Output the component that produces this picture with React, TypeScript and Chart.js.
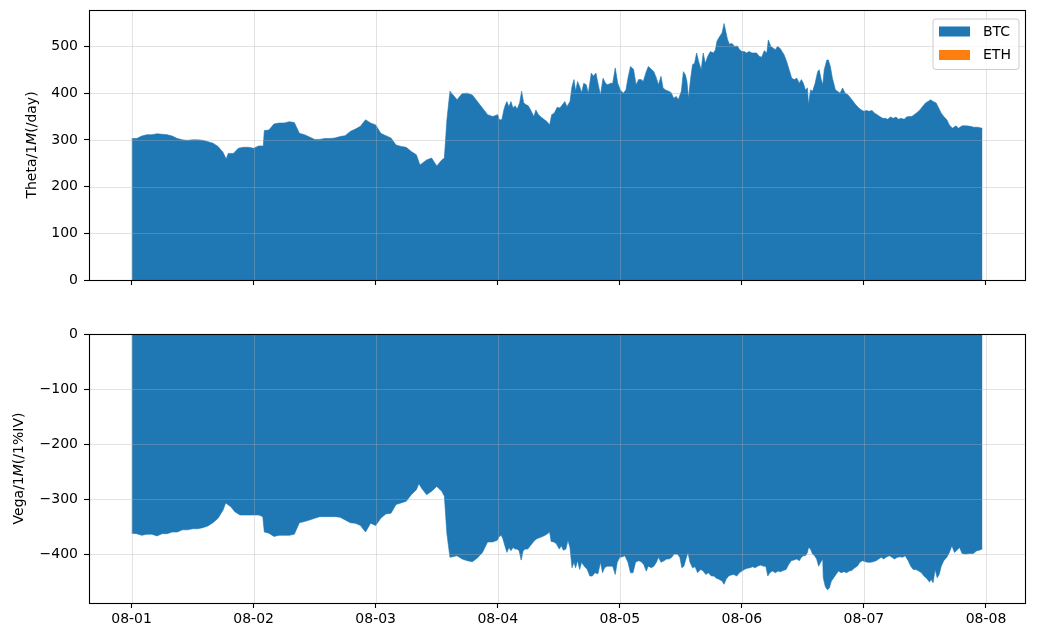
import React, { useEffect, useRef } from 'react';
import { Chart, registerables } from 'chart.js';

Chart.register(...registerables);

// ---------- data ----------
const DAY_TICKS = [0, 24, 48, 72, 96, 120, 144, 168]; // hours since 08-01 00:00
const DAY_LABELS = ['08-01', '08-02', '08-03', '08-04', '08-05', '08-06', '08-07', '08-08'];
const THETA_TICKS = [0, 100, 200, 300, 400, 500];
const VEGA_TICKS = [0, -100, -200, -300, -400];
const SERIES = ['BTC', 'ETH'];
const SERIES_COLORS = ['#1f77b4', '#ff7f0e'];
const THETA_LABEL = ['Theta/1', 'M', '(/day)'];
const VEGA_LABEL = ['Vega/1', 'M', '(/1%IV)'];

// [hour, value]
const THETA_BTC: [number, number][] = [
  [0, 303], [1, 303], [2, 308], [3, 311], [4, 311], [5, 313], [6, 312], [7, 311], [8, 308], [9, 303],
  [10, 300], [11, 299], [12, 300], [13, 300], [14, 299], [15, 296], [16, 293], [17, 286], [18, 273], [18.6, 259],
  [19, 271], [20, 271], [21, 282], [22, 284], [23, 284], [24, 282], [25, 287], [25.9, 287], [26.1, 320], [27, 321],
  [28, 334], [29, 336], [30, 336], [31, 339], [32, 337], [33, 314], [34, 311], [35, 306], [36, 301], [37, 301],
  [38, 303], [39, 303], [40, 304], [41, 307], [42, 309], [43, 318], [44, 323], [45, 329], [46, 343], [47, 336],
  [48, 332], [49, 314], [50, 309], [51, 304], [52, 289], [53, 286], [54, 284], [55, 275], [56, 268], [56.7, 246],
  [58, 257], [59, 261], [60, 244], [61, 257], [61.5, 261], [62, 343], [62.6, 404], [64, 386], [65, 399], [66, 400],
  [67, 396], [68, 382], [69, 368], [70, 354], [71, 350], [72, 354], [72.3, 343], [72.8, 343], [73.2, 364], [73.5, 375],
  [73.8, 382], [74.2, 371], [74.6, 382], [75, 368], [75.4, 373], [75.8, 366], [76.3, 379], [76.7, 404], [77.1, 379], [77.6, 375],
  [78, 373], [78.6, 361], [79.1, 350], [79.5, 364], [80, 354], [80.5, 349], [81.2, 343], [81.7, 339], [82.2, 332], [82.6, 354],
  [83.1, 357], [83.7, 370], [84.2, 368], [84.7, 375], [85.2, 382], [85.6, 371], [86.2, 382], [86.6, 414], [87, 429], [87.3, 404],
  [87.7, 425], [88.1, 414], [88.5, 401], [88.9, 421], [89.4, 418], [89.8, 400], [90.4, 443], [90.8, 436], [91.3, 443], [91.7, 421],
  [92.2, 396], [92.7, 432], [93.2, 421], [93.6, 418], [94.2, 421], [94.6, 421], [95.1, 454], [95.6, 421], [96.1, 407], [96.7, 400],
  [97.2, 407], [97.6, 432], [98.1, 457], [98.7, 451], [99.2, 418], [99.7, 429], [100.2, 429], [100.6, 425], [101.2, 446], [101.6, 457],
  [102.2, 451], [102.7, 446], [103.2, 432], [103.6, 418], [104.1, 436], [104.5, 411], [105, 407], [105.6, 404], [106.1, 401], [106.6, 389],
  [107.1, 393], [107.5, 386], [108.1, 404], [108.5, 446], [108.9, 439], [109.2, 425], [109.5, 389], [109.9, 429], [110.3, 461], [110.7, 464],
  [111.1, 486], [111.5, 468], [112, 450], [112.4, 486], [112.8, 464], [113.3, 479], [113.8, 489], [114.4, 486], [114.8, 493], [115.1, 511],
  [115.6, 521], [116.1, 529], [116.5, 549], [116.9, 529], [117.2, 514], [117.6, 504], [118, 507], [118.6, 500], [119.1, 501], [119.5, 494],
  [120, 489], [120.5, 489], [120.9, 486], [121.4, 489], [122, 486], [122.4, 486], [122.9, 486], [123.4, 479], [123.9, 477], [124.4, 491],
  [124.9, 486], [125.2, 514], [125.7, 500], [126.2, 496], [126.6, 493], [127, 500], [127.5, 496], [127.9, 489], [128.3, 482], [128.8, 468],
  [129.3, 450], [129.8, 432], [130.3, 429], [130.8, 432], [131.3, 421], [131.7, 429], [132.1, 421], [132.5, 407], [132.9, 411], [133.1, 375],
  [133.5, 407], [133.9, 404], [134.4, 421], [134.9, 446], [135.2, 450], [135.6, 429], [135.9, 418], [136.2, 450], [136.7, 471], [137, 471],
  [137.4, 457], [137.8, 432], [138.4, 407], [138.8, 404], [139.3, 400], [139.8, 411], [140.3, 400], [140.9, 396], [141.4, 389], [141.9, 382],
  [142.4, 375], [143, 368], [143.5, 364], [144, 361], [144.5, 363], [145, 361], [145.6, 363], [146.1, 357], [146.6, 354], [147.1, 350],
  [147.7, 346], [148.2, 346], [148.7, 344], [149.2, 349], [149.8, 346], [150.3, 349], [150.8, 344], [151.3, 346], [151.9, 344], [152.4, 349],
  [152.9, 350], [153.4, 350], [153.9, 354], [154.5, 359], [155, 364], [155.5, 371], [156.1, 379], [156.6, 382], [157.1, 386], [157.6, 382],
  [158.2, 379], [158.7, 368], [159.2, 357], [159.7, 350], [160.3, 343], [160.8, 332], [161.4, 325], [162.1, 330], [162.6, 325], [163.3, 330],
  [164.1, 330], [164.9, 329], [165.6, 327], [166.4, 327], [167.2, 325], [167.3, 323],
];
const THETA_ETH: [number, number][] = [];

const VEGA_BTC: [number, number][] = [
  [0, -362], [1, -363], [2, -366], [3, -364], [4, -364], [5, -367], [6, -363], [7, -363], [8, -360], [9, -360],
  [10, -356], [11, -356], [12, -354], [13, -354], [14, -352], [15, -349], [16, -343], [17, -335], [18, -320], [18.5, -307],
  [19.5, -314], [20.3, -323], [21.3, -329], [22.3, -329], [23.3, -329], [24, -329], [25, -329], [25.8, -332], [26.1, -360], [27, -362],
  [28, -368], [29, -366], [30, -366], [31, -366], [32, -364], [33, -343], [34, -341], [35, -338], [36, -335], [37, -332],
  [38, -332], [39, -332], [40, -332], [41, -333], [42, -338], [43, -343], [44, -344], [45, -348], [46, -360], [47, -344],
  [48, -348], [49, -335], [50, -327], [51, -326], [52, -310], [53, -307], [54, -304], [55, -292], [56, -283], [56.5, -272],
  [57, -280], [58, -292], [59, -286], [60, -277], [61, -286], [61.5, -295], [62, -363], [62.6, -406], [64, -403], [65, -409],
  [66, -412], [67, -414], [68, -407], [69, -397], [70, -378], [71, -378], [71.9, -375], [72.3, -368], [72.7, -366], [73, -372],
  [73.4, -385], [73.8, -397], [74.2, -388], [74.6, -394], [75, -388], [75.4, -391], [75.8, -391], [76.2, -394], [76.6, -411], [77, -394],
  [77.4, -391], [77.9, -391], [78.4, -385], [79, -378], [79.3, -375], [79.7, -372], [80.3, -370], [80.8, -368], [81.3, -366], [81.8, -363],
  [82.2, -360], [82.5, -377], [83, -378], [83.5, -381], [84.1, -391], [84.5, -385], [84.9, -393], [85.4, -391], [85.8, -375], [86.2, -388],
  [86.6, -425], [87, -415], [87.3, -425], [87.7, -412], [88.1, -428], [88.5, -415], [89, -422], [89.6, -428], [90.1, -440], [90.6, -440],
  [91.1, -434], [91.7, -436], [92.2, -415], [92.6, -434], [93, -425], [93.5, -422], [94, -422], [94.6, -422], [95.1, -437], [95.5, -415],
  [96, -406], [96.5, -405], [97, -403], [97.6, -415], [98.1, -434], [98.6, -434], [99.1, -415], [99.7, -412], [100.2, -414], [100.7, -419],
  [101.2, -431], [101.6, -422], [102.2, -425], [102.7, -422], [103.2, -415], [103.6, -406], [104.1, -415], [104.7, -412], [105.2, -409], [105.7, -409],
  [106.2, -406], [106.7, -400], [107.3, -400], [107.8, -406], [108.2, -425], [108.6, -422], [109, -409], [109.4, -397], [109.8, -415], [110.3, -425],
  [110.8, -423], [111.3, -434], [111.9, -428], [112.4, -431], [112.9, -437], [113.4, -434], [114, -440], [114.5, -440], [115, -444], [115.5, -446],
  [116.1, -449], [116.5, -455], [116.9, -446], [117.4, -440], [117.9, -438], [118.4, -437], [119, -440], [119.5, -434], [120, -431], [120.5, -428],
  [121, -426], [121.6, -425], [122.1, -423], [122.6, -425], [123.1, -422], [123.7, -420], [124.2, -422], [124.7, -422], [125.1, -440], [125.5, -434],
  [126, -431], [126.6, -434], [127.1, -431], [127.6, -432], [128.1, -430], [128.7, -428], [129.2, -419], [129.7, -412], [130.2, -411], [130.8, -409],
  [131.3, -412], [131.7, -406], [132.1, -403], [132.5, -403], [132.9, -397], [133.1, -388], [133.5, -391], [133.9, -400], [134.3, -403], [134.7, -409],
  [135.1, -422], [135.5, -415], [135.9, -409], [136, -443], [136.4, -459], [136.8, -465], [137.2, -462], [137.6, -449], [138, -444], [138.5, -437],
  [139, -431], [139.5, -434], [140.1, -432], [140.6, -434], [141.1, -431], [141.6, -430], [142.2, -425], [142.7, -422], [143.2, -415], [143.7, -412],
  [144.3, -414], [144.8, -415], [145.3, -415], [145.8, -414], [146.4, -412], [146.9, -409], [147.4, -406], [147.9, -409], [148.5, -405], [149, -403],
  [149.5, -406], [150, -409], [150.6, -406], [151.1, -405], [151.6, -406], [152.1, -403], [152.7, -412], [153.2, -422], [153.7, -428], [154.2, -428],
  [154.8, -431], [155.3, -434], [155.8, -440], [156.3, -444], [156.9, -451], [157.2, -446], [157.6, -452], [158, -428], [158.4, -443], [158.8, -437],
  [159.2, -422], [159.7, -412], [160.3, -406], [160.8, -397], [161.3, -385], [161.8, -397], [162.2, -394], [162.8, -388], [163.3, -399], [164, -400],
  [164.7, -399], [165.5, -399], [166.2, -394], [166.7, -393], [167.2, -391], [167.3, -391],
];
const VEGA_ETH: [number, number][] = [];

// ---------- styling ----------
const FONT = "'DejaVu Sans', 'Liberation Sans', sans-serif";
const W = 1037;

const gridOnTop = {
  id: 'gridOnTop',
  afterDatasetsDraw(chart: any) {
    const { ctx, chartArea: a, scales } = chart;
    ctx.save();
    ctx.strokeStyle = 'rgba(176,176,176,0.35)';
    ctx.lineWidth = 1;
    ctx.beginPath();
    scales.x.ticks.forEach((t: any) => {
      const px = Math.round(scales.x.getPixelForValue(t.value)) + 0.5;
      ctx.moveTo(px, a.top);
      ctx.lineTo(px, a.bottom);
    });
    scales.y.ticks.forEach((t: any) => {
      const py = Math.round(scales.y.getPixelForValue(t.value)) + 0.5;
      ctx.moveTo(a.left, py);
      ctx.lineTo(a.right, py);
    });
    ctx.stroke();
    ctx.restore();
  },
};

const frame = {
  id: 'frame',
  afterDraw(chart: any) {
    const { ctx, chartArea: a } = chart;
    ctx.save();
    ctx.strokeStyle = '#000';
    ctx.lineWidth = 1.1;
    ctx.strokeRect(Math.round(a.left) + 0.5, Math.round(a.top) + 0.5, Math.round(a.right - a.left), Math.round(a.bottom - a.top));
    ctx.restore();
  },
};

function yTitle(parts: string[], cx: number) {
  return {
    id: 'yTitle',
    afterDraw(chart: any) {
      const { ctx, chartArea: a } = chart;
      const cy = (a.top + a.bottom) / 2;
      const fonts = [`14px ${FONT}`, `italic 14px ${FONT}`, `14px ${FONT}`];
      ctx.save();
      let total = 0;
      const widths = parts.map((p, i) => {
        ctx.font = fonts[i];
        const w = ctx.measureText(p).width;
        total += w;
        return w;
      });
      ctx.translate(cx, cy);
      ctx.rotate(-Math.PI / 2);
      ctx.fillStyle = '#000';
      ctx.textBaseline = 'middle';
      ctx.textAlign = 'left';
      let x = -total / 2;
      parts.forEach((p, i) => {
        ctx.font = fonts[i];
        ctx.fillText(p, x, 0);
        x += widths[i];
      });
      ctx.restore();
    },
  };
}

const insideLegend = {
  id: 'insideLegend',
  afterDraw(chart: any) {
    const { ctx, chartArea: a } = chart;
    const ds = chart.data.datasets;
    const bw = 86;
    const bh = 50.5;
    const bx = a.right - 6 - bw;
    const by = a.top + 9;
    ctx.save();
    ctx.beginPath();
    const r = 3;
    ctx.moveTo(bx + r, by);
    ctx.lineTo(bx + bw - r, by);
    ctx.quadraticCurveTo(bx + bw, by, bx + bw, by + r);
    ctx.lineTo(bx + bw, by + bh - r);
    ctx.quadraticCurveTo(bx + bw, by + bh, bx + bw - r, by + bh);
    ctx.lineTo(bx + r, by + bh);
    ctx.quadraticCurveTo(bx, by + bh, bx, by + bh - r);
    ctx.lineTo(bx, by + r);
    ctx.quadraticCurveTo(bx, by, bx + r, by);
    ctx.closePath();
    ctx.fillStyle = 'rgba(255,255,255,0.8)';
    ctx.fill();
    ctx.strokeStyle = '#cccccc';
    ctx.lineWidth = 1;
    ctx.stroke();
    ctx.font = `14px ${FONT}`;
    ctx.textBaseline = 'middle';
    ctx.textAlign = 'left';
    ds.forEach((d: any, i: number) => {
      const cy = by + 12.5 + i * 23.5;
      ctx.fillStyle = d.backgroundColor;
      ctx.fillRect(bx + 6, cy - 5, 31, 10);
      ctx.fillStyle = '#000';
      ctx.fillText(d.label, bx + 50, cy + 0.5);
    });
    ctx.restore();
  },
};

const fmtY = (v: number) => (v < 0 ? '\u2212' + Math.abs(v) : String(v));

function makeConfig(opts: {
  btc: [number, number][];
  eth: [number, number][];
  yTicks: number[];
  yMin: number;
  yMax: number;
  showX: boolean;
  padTop: number;
  xHeight: number;
  label: string[];
  labelX: number;
  legend: boolean;
}): any {
  const plugins: any[] = [gridOnTop, frame, yTitle(opts.label, opts.labelX)];
  if (opts.legend) plugins.push(insideLegend);
  return {
    type: 'line',
    data: {
      datasets: [
        {
          label: SERIES[0],
          data: opts.btc.map(([x, y]) => ({ x, y })),
          backgroundColor: SERIES_COLORS[0],
          borderColor: SERIES_COLORS[0],
          borderWidth: 0.6,
          pointRadius: 0,
          tension: 0,
          fill: 'origin',
        },
        {
          label: SERIES[1],
          data: opts.eth.map(([x, y]) => ({ x, y })),
          backgroundColor: SERIES_COLORS[1],
          borderColor: SERIES_COLORS[1],
          borderWidth: 0,
          pointRadius: 0,
          fill: 'origin',
        },
      ],
    },
    options: {
      responsive: false,
      animation: false,
      events: [],
      layout: { padding: { top: opts.padTop, right: 12, left: 0, bottom: 0 } },
      plugins: { legend: { display: false }, tooltip: { enabled: false } },
      scales: {
        x: {
          type: 'linear',
          min: -8.37,
          max: 175.67,
          afterBuildTicks: (s: any) => {
            s.ticks = DAY_TICKS.map((v) => ({ value: v }));
          },
          afterFit: (s: any) => {
            s.height = opts.xHeight;
            s.paddingLeft = 0;
            s.paddingRight = 0;
          },
          border: { display: false },
          grid: { drawOnChartArea: false, drawTicks: true, tickLength: 5, tickColor: '#000', tickWidth: 1.1 },
          ticks: {
            display: opts.showX,
            color: '#000',
            padding: 3,
            maxRotation: 0,
            font: { family: FONT, size: 14 },
            callback: (v: number) => DAY_LABELS[DAY_TICKS.indexOf(v)] ?? '',
          },
        },
        y: {
          type: 'linear',
          min: opts.yMin,
          max: opts.yMax,
          afterBuildTicks: (s: any) => {
            s.ticks = opts.yTicks.map((v) => ({ value: v }));
          },
          afterFit: (s: any) => {
            s.width = 89;
            s.paddingTop = 0;
            s.paddingBottom = 0;
          },
          border: { display: false },
          grid: { drawOnChartArea: false, drawTicks: true, tickLength: 5, tickColor: '#000', tickWidth: 1.1 },
          ticks: {
            color: '#000',
            padding: 6,
            font: { family: FONT, size: 14 },
            callback: (v: number) => fmtY(v),
          },
        },
      },
    },
    plugins,
  };
}

export default function App() {
  const topRef = useRef<HTMLCanvasElement | null>(null);
  const botRef = useRef<HTMLCanvasElement | null>(null);

  useEffect(() => {
    if (!topRef.current || !botRef.current) return;
    const top = new Chart(
      topRef.current,
      makeConfig({
        btc: THETA_BTC,
        eth: THETA_ETH,
        yTicks: THETA_TICKS,
        yMin: 0,
        yMax: 578,
        showX: false,
        padTop: 10,
        xHeight: 20,
        label: THETA_LABEL,
        labelX: 32,
        legend: true,
      })
    );
    const bot = new Chart(
      botRef.current,
      makeConfig({
        btc: VEGA_BTC,
        eth: VEGA_ETH,
        yTicks: VEGA_TICKS,
        yMin: -489,
        yMax: 0,
        showX: true,
        padTop: 14,
        xHeight: 37,
        label: VEGA_LABEL,
        labelX: 19,
        legend: false,
      })
    );
    return () => {
      top.destroy();
      bot.destroy();
    };
  }, []);

  return (
    <div style={{ position: 'absolute', left: 0, top: 0, width: W, height: 640, background: '#fff' }}>
      <canvas ref={topRef} width={W} height={300} style={{ position: 'absolute', left: 0, top: 0, width: W, height: 300 }} />
      <canvas ref={botRef} width={W} height={320} style={{ position: 'absolute', left: 0, top: 320, width: W, height: 320 }} />
    </div>
  );
}
